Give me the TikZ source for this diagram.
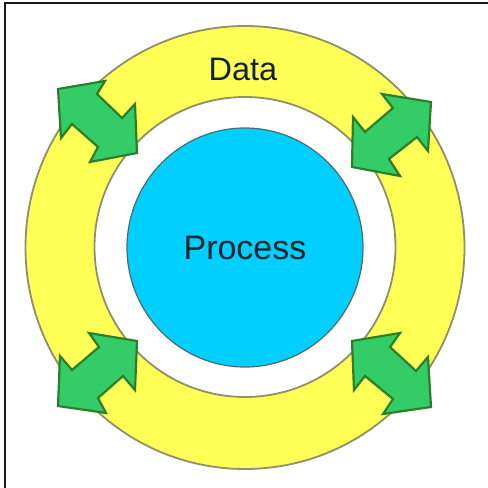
\documentclass[tikz,border=0pt]{standalone}
\usepackage{fontspec}
\setmainfont{Liberation Sans}
\definecolor{ringyellow}{HTML}{FFFF55}
\definecolor{ringline}{HTML}{8F8F68}
\definecolor{coreblue}{HTML}{00CFFF}
\definecolor{coreline}{HTML}{4A6A70}
\definecolor{arrowgreen}{HTML}{33CC66}
\definecolor{arrowline}{HTML}{2A802A}
\definecolor{textdark}{HTML}{10222C}
\tikzset{
  ring/.style={fill=ringyellow,draw=ringline,line width=1.8pt,even odd rule},
  core/.style={fill=coreblue,draw=coreline,line width=1.2pt},
  dblarrow/.style={fill=arrowgreen,draw=arrowline,line width=2.2pt,line join=miter},
  frameline/.style={draw=black!90,line width=2.6pt},
  datalbl/.style={text=textdark,inner sep=0pt,font=\fontsize{32.5}{36}\selectfont},
  proclbl/.style={text=textdark,inner sep=0pt,font=\fontsize{34}{36}\selectfont}
}
\begin{document}
\begin{tikzpicture}[x=1pt,y=-1pt]
\useasboundingbox (0,0) rectangle (488,488);
\fill[white] (0,0) rectangle (488,488);
\draw[frameline] (5,488) -- (5,3) -- (488,3);
\path[ring] (245,247.5) ellipse[x radius=219.5,y radius=221.5] (245,247) ellipse[x radius=150.5,y radius=150];
\path[core] (245,247.5) ellipse[x radius=118,y radius=119.5];
\draw[dblarrow] (58,89) -- (105,81) -- (97,94) -- (122,118) -- (135,104) -- (137,153) -- (90,162) -- (98,147) -- (72,124) -- (61,138) -- cycle;
\draw[dblarrow] (431,102) -- (382,94) -- (393,108) -- (365,132) -- (353,117) -- (352,167) -- (400,176) -- (389,159) -- (417,137) -- (428,151) -- cycle;
\draw[dblarrow] (137,341) -- (89,333) -- (99,347) -- (72,370) -- (60,356) -- (58,406) -- (106,413) -- (98,398) -- (123,376) -- (135,390) -- cycle;
\draw[dblarrow] (352,341) -- (400,333) -- (390,347) -- (416,371) -- (428,357) -- (431,407) -- (383,414) -- (393,399) -- (365,376) -- (354,390) -- cycle;
\node[datalbl] (data) at (243,69) {Data};
\node[proclbl] (process) at (245,248) {Process};
\end{tikzpicture}
\end{document}
